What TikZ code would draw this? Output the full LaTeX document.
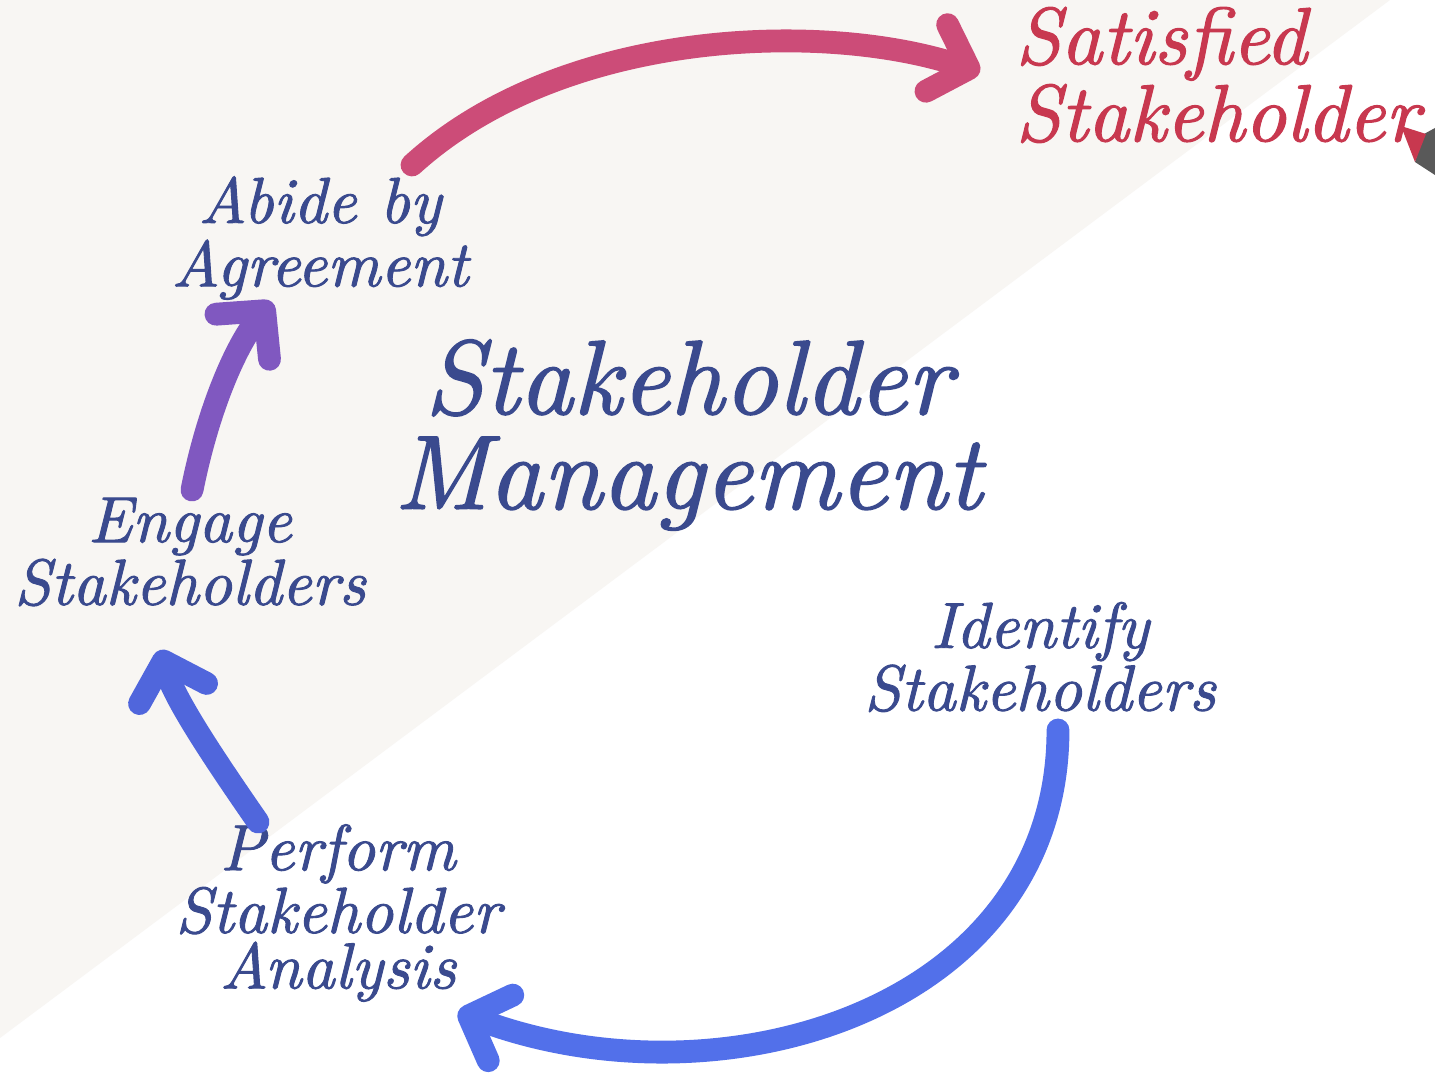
\documentclass[tikz,border=0pt]{standalone}
\usepackage{fontspec}
\usetikzlibrary{arrows.meta}
\newfontfamily\hand{lmroman10-italic.otf}[FakeBold=1.4]
\definecolor{paper}{HTML}{F8F6F3}
\definecolor{ink}{HTML}{3A4A8E}
\definecolor{inkred}{HTML}{C8384F}
\definecolor{arrpink}{HTML}{CC4C78}
\definecolor{arrviolet}{HTML}{8058C0}
\definecolor{arrblue}{HTML}{5066DC}
\definecolor{arcblue}{HTML}{5270EA}
\begin{document}
\begin{tikzpicture}[x=0.1mm,y=-0.1mm,
  lbl/.style={text=ink,align=center,font=\hand\fontsize{18.5}{15.5}\selectfont},
  arr/.style={line width=6.5pt,line cap=round,-{Straight Barb[round,length=3.4mm,width=7mm]}}]
\useasboundingbox (0,0) rectangle (1435,1076);
\fill[white] (0,0) rectangle (1435,1076);
\fill[paper] (0,0) -- (1390,0) -- (0,1038) -- cycle;
%\node at (700,20) {title};
\node[text=inkred,align=left,anchor=west,font=\hand\fontsize{23}{18.5}\selectfont] (satisfied) at (1003,75) {Satisfied\\Stakeholder};
\node[lbl] (abide) at (320,238) {Abide by\\Agreement};
\node[text=ink,align=center,font=\hand\fontsize{30}{27}\selectfont] (mgmt) at (688,435) {Stakeholder\\Management};
\node[lbl] (engage) at (190,552) {Engage\\Stakeholders};
\node[lbl] (identify) at (1040,657) {Identify\\Stakeholders};
\node[lbl,font=\hand\fontsize{18.5}{15.8}\selectfont] (analysis) at (338,913) {Perform\\Stakeholder\\Analysis};
\coordinate (a1) at (412,165); \coordinate (a2) at (980,72);
\coordinate (b1) at (192,490); \coordinate (b2) at (272,302);
\coordinate (c1) at (258,822); \coordinate (c2) at (160,650);
\coordinate (d1) at (1058,730); \coordinate (d2) at (458,1012);
\draw[arr,arrpink] (a1) .. controls (560,30) and (820,20) .. (a2);
\draw[arr,arrviolet] (b1) .. controls (210,400) and (240,340) .. (b2);
\draw[arr,arrblue] (c1) .. controls (215,760) and (175,700) .. (c2);
\draw[arr,arcblue] (d1) .. controls (1058,1010) and (720,1110) .. (d2);
% marker pen
\fill[gray!70!black] (1424,134) -- (1435,128) -- (1435,175) -- (1415,162) -- cycle;
\fill[inkred] (1401,126) -- (1426,134) -- (1415,162) -- cycle;
\end{tikzpicture}
\end{document}
